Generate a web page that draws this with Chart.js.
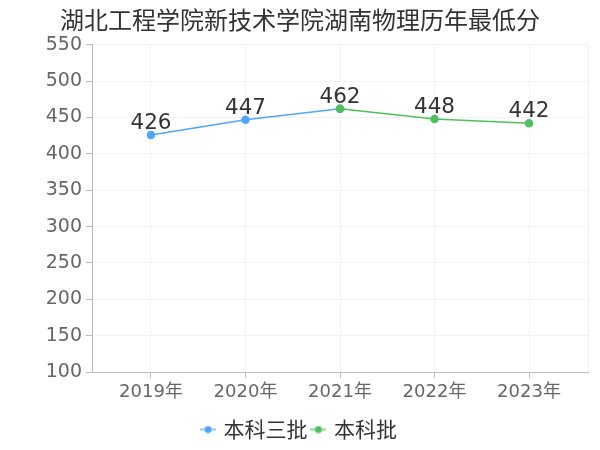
<!DOCTYPE html>
<html lang="zh">
<head>
<meta charset="UTF-8">
<title>湖北工程学院新技术学院湖南物理历年最低分</title>
<script src="https://cdn.jsdelivr.net/npm/chart.js"></script>
<style>
  html, body { margin: 0; padding: 0; background: #fff; }
  #wrap { width: 600px; height: 450px; }
</style>
</head>
<body>
<div id="wrap"><canvas id="c" width="600" height="450"></canvas></div>
<script>
// 数据
const years = [2019, 2020, 2021, 2022, 2023];
const yearLabels = ['2019年', '2020年', '2021年', '2022年', '2023年'];
const sanpiYears = [2019, 2020, 2021];
const sanpiScores = [426, 447, 462];
const benkeYears = [2021, 2022, 2023];
const benkeScores = [462, 448, 442];
const yTicks = [100, 150, 200, 250, 300, 350, 400, 450, 500, 550];

const blue = '#4da6ff';
const green = '#4cc35a';
const cjk = '"DejaVu Sans", "Noto Sans CJK SC", sans-serif';

// 图例图标: 线 + 圆点
function legendIcon(color) {
  const cv = document.createElement('canvas');
  cv.width = 16; cv.height = 8;
  const g = cv.getContext('2d');
  g.strokeStyle = color; g.globalAlpha = 0.6; g.lineWidth = 2;
  g.beginPath(); g.moveTo(0, 4); g.lineTo(16, 4); g.stroke();
  g.globalAlpha = 1; g.fillStyle = color;
  g.beginPath(); g.arc(8, 4, 3.5, 0, Math.PI * 2); g.fill();
  return cv;
}

// 数据标签
const valueLabels = {
  id: 'valueLabels',
  afterDatasetsDraw(chart) {
    const ctx = chart.ctx;
    const seen = {};
    ctx.save();
    ctx.font = '21.5px "DejaVu Sans", sans-serif';
    ctx.fillStyle = '#333';
    ctx.textAlign = 'center';
    ctx.textBaseline = 'alphabetic';
    chart.data.datasets.forEach((ds, i) => {
      chart.getDatasetMeta(i).data.forEach((pt, j) => {
        const x = ds.data[j].x;
        if (seen[x]) return;
        seen[x] = true;
        ctx.fillText(String(ds.data[j].y), pt.x, pt.y - 6);
      });
    });
    ctx.restore();
  }
};

new Chart(document.getElementById('c'), {
  type: 'line',
  data: {
    datasets: [
      {
        label: '本科三批',
        data: sanpiYears.map((x, i) => ({ x: x, y: sanpiScores[i] })),
        borderColor: blue,
        backgroundColor: blue,
        borderWidth: 1.5,
        pointRadius: 3.5,
        pointHoverRadius: 4,
        tension: 0,
        order: 2
      },
      {
        label: '本科批',
        data: benkeYears.map((x, i) => ({ x: x, y: benkeScores[i] })),
        borderColor: green,
        backgroundColor: green,
        borderWidth: 1.5,
        pointRadius: 3.5,
        pointHoverRadius: 4,
        tension: 0,
        order: 1
      }
    ]
  },
  options: {
    responsive: false,
    animation: false,
    layout: { padding: { top: 3, right: 12, left: 12, bottom: 0 } },
    plugins: {
      title: {
        display: true,
        text: '湖北工程学院新技术学院湖南物理历年最低分',
        color: '#333',
        font: { size: 24, weight: 'normal', family: '"Noto Sans CJK SC", sans-serif' },
        padding: { top: 2, bottom: 11 }
      },
      legend: {
        position: 'bottom',
        labels: {
          color: '#333',
          font: { size: 21, family: '"Noto Sans CJK SC", sans-serif' },
          usePointStyle: true,
          pointStyleWidth: 10,
          padding: 6,
          generateLabels(chart) {
            return chart.data.datasets.map((ds, i) => ({
              text: ds.label,
              fontColor: '#333',
              pointStyle: legendIcon(ds.borderColor),
              datasetIndex: i,
              hidden: false,
              lineWidth: 0
            }));
          }
        }
      },
      tooltip: { enabled: false }
    },
    scales: {
      x: {
        type: 'linear',
        min: 2018.376,
        max: 2023.624,
        afterBuildTicks(scale) {
          scale.ticks = [scale.min].concat(years, [scale.max]).map(v => ({ value: v }));
        },
        afterFit(scale) { scale.height = 41; },
        ticks: {
          color: '#666',
          font: { size: 18, family: cjk },
          padding: 4,
          maxRotation: 0,
          autoSkip: false,
          callback(v) {
            const k = years.indexOf(v);
            return k >= 0 ? yearLabels[k] : '';
          }
        },
        grid: {
          color: '#f2f2f2',
          tickLength: 6,
          tickColor(ctx) {
            return years.indexOf(ctx.tick.value) >= 0 ? '#bbb' : 'rgba(0,0,0,0)';
          }
        },
        border: { color: '#bbb', width: 1 }
      },
      y: {
        min: 100,
        max: 550,
        afterBuildTicks(scale) {
          scale.ticks = yTicks.map(v => ({ value: v }));
        },
        afterFit(scale) { scale.width = 80; },
        ticks: {
          color: '#666',
          font: { size: 19, family: cjk },
          padding: 4
        },
        grid: { color: '#f2f2f2', tickLength: 6, tickColor: '#bbb' },
        border: { color: '#bbb', width: 1 }
      }
    }
  },
  plugins: [valueLabels]
});
</script>
</body>
</html>
